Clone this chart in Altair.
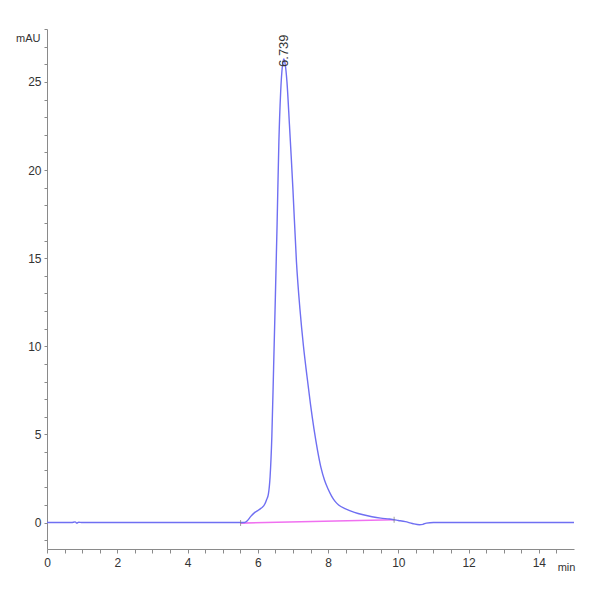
import altair as alt
import pandas as pd

# Chromatogram trace (retention time in min, signal in mAU)
rt = [0, 0.7, 0.8, 0.85, 0.9, 1.0, 3.0, 5.5, 5.62, 5.7, 5.8, 5.9, 6.0, 6.1, 6.2, 6.25,
      6.3, 6.35, 6.4, 6.45, 6.5, 6.55, 6.6, 6.65, 6.7, 6.739, 6.78, 6.83, 6.9, 6.95,
      7.0, 7.1, 7.2, 7.3, 7.4, 7.5, 7.6, 7.7, 7.8, 7.9, 8.0, 8.1, 8.2, 8.3, 8.5, 8.75,
      9.0, 9.25, 9.5, 9.75, 10.0, 10.2, 10.4, 10.6, 10.7, 10.8, 11.0, 12.0, 13.0, 14.0, 15.0]
mau = [0, 0, 0.04, -0.03, 0.02, 0, 0, 0, 0, 0.1, 0.35, 0.55, 0.68, 0.82, 1.05, 1.3,
       1.6, 2.6, 4.9, 8.8, 12.8, 17.0, 21.6, 24.4, 25.9, 26.3, 26.0, 25.0, 22.6, 20.8,
       18.9, 14.8, 12.1, 10.0, 8.3, 6.7, 5.3, 4.1, 3.1, 2.4, 1.9, 1.5, 1.2, 1.0, 0.78, 0.58,
       0.44, 0.33, 0.25, 0.2, 0.12, 0.05, -0.05, -0.12, -0.1, -0.03, 0.0, 0.0, 0.0, 0.0, 0.0]

# Integration baseline
base_rt = [5.51, 9.88]
base_mau = [-0.03, 0.16]

# Peak label
peak_rt = [6.739]
peak_mau = [26.3]
peak_label = ["6.739"]

x_ticks = [i * 0.5 for i in range(0, 30)]
y_ticks = list(range(-1, 29))

FONT = "Liberation Sans"

trace = pd.DataFrame({"rt": rt, "mau": mau})
base = pd.DataFrame({"rt": base_rt, "mau": base_mau})
peak = pd.DataFrame({"rt": peak_rt, "mau": peak_mau, "label": peak_label})

xs = alt.Scale(domain=[0, 15], nice=False, zero=False)
ys = alt.Scale(domain=[-1.5, 28], nice=False, zero=False)

x_axis = alt.Axis(
    values=x_ticks, grid=False, domainColor="#8a8a8a", tickColor="#8a8a8a",
    tickSize=4, labelPadding=4, labelFontSize=12, labelFont=FONT, labelColor="#333333",
    labelOverlap=False, labelFlush=False,
    labelExpr="datum.value % 2 == 0 ? format(datum.value, 'd') : ''",
    title="min", titleFont=FONT, titleFontSize=11, titleFontWeight="normal",
    titleColor="#333333", titleX=519, titleY=18, titleAlign="center",
    titleBaseline="middle", titleAngle=0,
)
y_axis = alt.Axis(
    values=y_ticks, grid=False, domainColor="#8a8a8a", tickColor="#8a8a8a",
    tickSize=3, labelPadding=3, labelFontSize=12, labelFont=FONT, labelColor="#333333",
    labelOverlap=False, labelFlush=False,
    labelExpr="datum.value % 5 == 0 ? format(datum.value, 'd') : ''",
    title="mAU", titleFont=FONT, titleFontSize=11, titleFontWeight="normal",
    titleColor="#333333", titleX=-7, titleY=9, titleAlign="right",
    titleBaseline="middle", titleAngle=0,
)

X = alt.X("rt:Q", scale=xs, axis=x_axis)
Y = alt.Y("mau:Q", scale=ys, axis=y_axis)

line = alt.Chart(trace).mark_line(color="#6f6ff2", strokeWidth=1.4, interpolate="monotone").encode(
    x=X, y=Y,
)

baseline = alt.Chart(base).mark_line(color="#f070f0", strokeWidth=1.6).encode(
    x=X, y=Y,
)

marks = alt.Chart(base).mark_tick(color="#777777", orient="vertical", size=6, thickness=1).encode(
    x=X, y=Y,
)

label = alt.Chart(peak).mark_text(
    angle=270, align="left", baseline="middle", dx=-8, fontSize=13, font=FONT, color="#333333"
).encode(
    x=X, y=Y,
    text="label:N",
)

chart = alt.layer(baseline, line, marks, label).properties(
    width=527, height=520,
    autosize=alt.AutoSizeParams(type="none"),
    padding={"left": 47, "top": 29, "right": 26, "bottom": 51},
    background="white",
).configure_view(stroke=None)

chart.save("out.html", embed_options={"renderer": "svg", "actions": False})
